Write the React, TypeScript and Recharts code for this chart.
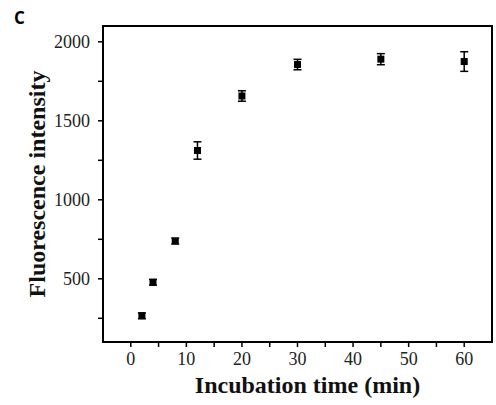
import { ScatterChart, Scatter, XAxis, YAxis, ErrorBar, Label, ReferenceArea } from "recharts";

const times = [2, 4, 8, 12, 20, 30, 45, 60];
const intensity = [266, 478, 739, 1312, 1657, 1856, 1890, 1875];
const errors = [18, 18, 18, 55, 33, 33, 35, 62];

const xTicks = [0, 5, 10, 15, 20, 25, 30, 35, 40, 45, 50, 55, 60];
const yTicks = [250, 500, 750, 1000, 1250, 1500, 1750, 2000];

const X_DOMAIN: [number, number] = [-5, 65];
const Y_DOMAIN: [number, number] = [100, 2100];

const data = times.map((t, i) => ({ t, v: intensity[i], err: errors[i] }));

const SERIF = '"Liberation Serif", "Times New Roman", serif';

function XTick({ x, y, payload }: any) {
  if (payload.value % 10 !== 0) return <g />;
  return (
    <text x={x} y={y} dy="0.71em" textAnchor="middle" fontFamily={SERIF} fontSize={18} fill="#222">
      {payload.value}
    </text>
  );
}

function YTick({ x, y, payload }: any) {
  if (payload.value % 500 !== 0) return <g />;
  return (
    <text x={x} y={y} dy="0.355em" textAnchor="end" fontFamily={SERIF} fontSize={18} fill="#222">
      {payload.value}
    </text>
  );
}

function Square({ cx, cy }: any) {
  return <rect x={cx - 3.5} y={cy - 3.5} width={7} height={7} fill="#000" />;
}

export default function App() {
  return (
    <div style={{ position: "absolute", left: 0, top: 0, width: 496, height: 405, background: "#fff" }}>
      <div
        style={{
          position: "absolute",
          left: 14,
          top: 7,
          fontFamily: '"Open Sans", "Liberation Sans", sans-serif',
          fontWeight: 700,
          fontSize: 17,
          lineHeight: "22px",
        }}
      >
        C
      </div>
      <ScatterChart width={496} height={405} margin={{ top: 26, right: 4, bottom: 0, left: 0 }}>
        {/* plot frame */}
        <ReferenceArea
          x1={X_DOMAIN[0]}
          x2={X_DOMAIN[1]}
          y1={Y_DOMAIN[0]}
          y2={Y_DOMAIN[1]}
          fill="none"
          fillOpacity={0}
          stroke="#000"
          strokeWidth={2}
          ifOverflow="visible"
        />
        <XAxis
          dataKey="t"
          type="number"
          domain={X_DOMAIN}
          ticks={xTicks}
          interval={0}
          height={63}
          tickSize={5}
          tickMargin={5}
          tick={<XTick />}
          axisLine={{ stroke: "#000", strokeWidth: 2 }}
          tickLine={{ stroke: "#000", strokeWidth: 1.5 }}
        >
          <Label
            content={({ viewBox }: any) => (
              <text
                x={viewBox.x + viewBox.width / 2 + 10}
                y={385}
                dy="0.35em"
                textAnchor="middle"
                fontFamily={SERIF}
                fontWeight={700}
                fontSize={24}
                fill="#111"
              >
                Incubation time (min)
              </text>
            )}
          />
        </XAxis>
        <YAxis
          dataKey="v"
          type="number"
          domain={Y_DOMAIN}
          ticks={yTicks}
          interval={0}
          width={103}
          tickSize={5}
          tickMargin={8}
          tick={<YTick />}
          axisLine={{ stroke: "#000", strokeWidth: 2 }}
          tickLine={{ stroke: "#000", strokeWidth: 1.5 }}
        >
          <Label
            content={({ viewBox }: any) => {
              const cx = 37;
              const cy = viewBox.y + viewBox.height / 2;
              return (
                <text
                  x={cx}
                  y={cy}
                  dy="0.35em"
                  textAnchor="middle"
                  transform={`rotate(-90 ${cx} ${cy})`}
                  fontFamily={SERIF}
                  fontWeight={700}
                  fontSize={24}
                  fill="#111"
                >
                  Fluorescence intensity
                </text>
              );
            }}
          />
        </YAxis>
        <Scatter data={data} shape={<Square />} isAnimationActive={false}>
          <ErrorBar dataKey="err" direction="y" width={4} stroke="#000" strokeWidth={1.5} isAnimationActive={false} />
        </Scatter>
      </ScatterChart>
    </div>
  );
}
